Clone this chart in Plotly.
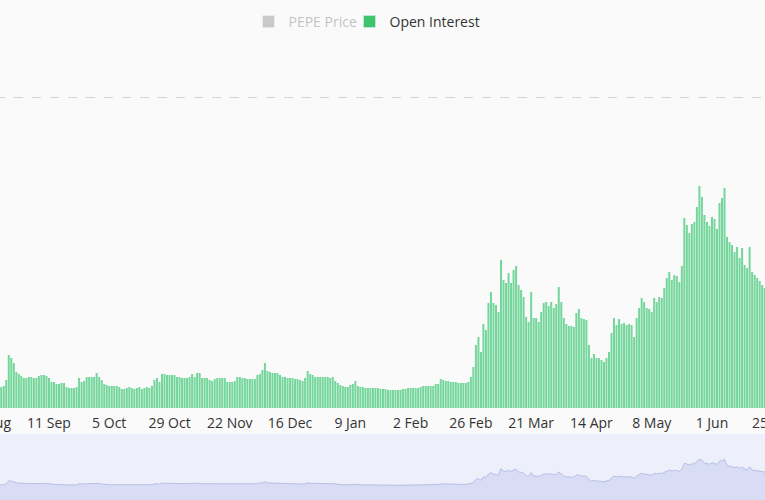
import pandas as pd
import plotly.graph_objects as go

# ---------------- data ----------------
START_DATE = "2023-08-18"

OI_AUG_OCT = [22, 21, 22, 20, 21,
              21, 22, 28, 53, 50, 45, 36, 34, 32, 30,
              30, 31, 31, 30, 30, 32, 33, 33, 32, 30,
              26, 26, 24, 24, 25, 25, 21, 20, 20, 20,
              21, 30, 26, 27, 31, 31, 31, 31, 35, 31,
              28, 24, 23, 22, 22, 22, 22, 21, 19, 19,
              20, 21, 20, 19, 20, 21, 19, 20, 21, 20,
              22, 28, 30, 26]
OI_OCT_DEC = [34, 34, 33, 33, 33, 33, 31, 31, 30, 30,
              30, 31, 34, 31, 35, 35, 30, 30, 30, 28,
              27, 29, 30, 30, 30, 30, 26, 26, 26, 27,
              31, 31, 30, 30, 29, 29, 29, 29, 33, 34,
              38, 45, 37, 36, 35, 35, 35, 33, 31, 31,
              30, 30, 30, 29, 29, 28, 27, 30, 37, 34,
              33, 31, 31]
OI_DEC_FEB = [31, 31, 31, 31, 30, 31, 27, 25, 23, 22,
              21, 21, 23, 24, 27, 22, 21, 21, 20, 20,
              20, 20, 20, 20, 19, 19, 19, 18, 18, 18,
              18, 18, 18, 19, 19, 20, 20, 20, 20, 20,
              21, 22, 22, 22, 22, 22, 24, 24, 29, 28,
              27, 27, 26, 26, 26, 25]
OI_FEB_APR = [25, 25, 25, 26, 31, 41, 63, 71, 56, 84,
              78, 105, 116, 105, 103, 96, 148, 128, 125, 135,
              125, 138, 142, 123, 118, 111, 91, 86, 116, 90,
              90, 86, 96, 105, 106, 102, 106, 100, 104, 121,
              106, 90, 84, 82, 82, 81, 95, 99, 90, 89,
              88, 63, 50, 54, 50, 50]
OI_APR_JUN = [48, 46, 50, 56, 75, 90, 83, 89, 84, 85,
              83, 84, 83, 71, 90, 100, 110, 106, 100, 99,
              96, 110, 106, 111, 110, 120, 130, 136, 128, 133,
              132, 126, 142, 190, 183, 175, 184, 186, 201, 222,
              211, 193, 186, 182, 191, 189, 179, 205, 210, 220,
              171, 166, 163, 156, 161, 150, 160, 143, 140, 161,
              136, 133, 130, 127, 123, 120, 118, 115, 112]

OPEN_INTEREST = OI_AUG_OCT + OI_OCT_DEC + OI_DEC_FEB + OI_FEB_APR + OI_APR_JUN
DATES = pd.date_range(START_DATE, periods=len(OPEN_INTEREST), freq="D")

TICK0 = "2023-08-18"
TICK_STEP_DAYS = 24
X_RANGE = ["2023-08-06 13:50", "2024-07-08 01:08"]
Y_RANGE = [0, 320]
GRID_VALUE = 311
MINI_RANGE = [-96.5, 416.3]
MINI_BASE = [MINI_RANGE[0]] * len(OPEN_INTEREST)

# ---------------- styling ----------------
SHIFT = 40
FIG_W = 765 + 2 * SHIFT
FIG_H = 500
TOP = 88
BG = "#fafafa"
BAR_COLOR = "#74d69b"
LEGEND_GREEN = "#3ec46d"
FONT = "Open Sans, Inter, sans-serif"

fig = go.Figure()

# legend-only entries
fig.add_trace(go.Bar(x=[None], y=[None], name="PEPE Price", visible="legendonly",
                     marker_color="#9a9a9a", legend="legend2"))
fig.add_trace(go.Bar(x=[None], y=[None], name="Open Interest",
                     marker_color=LEGEND_GREEN, legend="legend", hoverinfo="skip"))

# main bars
fig.add_trace(go.Bar(x=DATES, y=OPEN_INTEREST, name="Open Interest",
                     marker=dict(color=BAR_COLOR, line=dict(width=0)),
                     showlegend=False, xaxis="x", yaxis="y"))

# mini overview chart
fig.add_trace(go.Scatter(x=DATES, y=MINI_BASE, mode="lines", line=dict(width=0),
                         showlegend=False, hoverinfo="skip", xaxis="x2", yaxis="y2"))
fig.add_trace(go.Scatter(x=DATES, y=OPEN_INTEREST, mode="lines",
                         line=dict(color="#b7bfe6", width=1),
                         fill="tonexty", fillcolor="#d8ddf5",
                         showlegend=False, hoverinfo="skip", xaxis="x2", yaxis="y2"))

plot_h = FIG_H - TOP
fig.update_layout(
    width=FIG_W, height=FIG_H,
    margin=dict(l=0, r=0, t=TOP, b=0, autoexpand=False),
    paper_bgcolor=BG, plot_bgcolor=BG,
    barmode="overlay", bargap=0.2,
    font=dict(family=FONT, size=14, color="#333333"),
    xaxis=dict(type="date", range=X_RANGE, tick0=TICK0,
               dtick=TICK_STEP_DAYS * 86400000, tickformat="%-d %b",
               showgrid=False, zeroline=False, showline=False, ticks="",
               ticklabelstandoff=5,
               tickfont=dict(family=FONT, size=14, color="#333333"),
               anchor="y", domain=[0, 1]),
    yaxis=dict(range=Y_RANGE, domain=[(FIG_H - 408) / plot_h, 1],
               tickvals=[GRID_VALUE], showticklabels=False, showgrid=True,
               gridcolor="#d4d4d4", griddash="dash", gridwidth=1,
               zeroline=False, showline=False, ticks=""),
    xaxis2=dict(matches="x", anchor="y2", visible=False, domain=[0, 1]),
    yaxis2=dict(range=MINI_RANGE, domain=[0, (FIG_H - 434) / plot_h], visible=False),
    legend=dict(orientation="h", x=(373.5 + SHIFT - 24) / FIG_W, xanchor="left",
                y=(FIG_H - 22) / plot_h, yanchor="middle",
                font=dict(family=FONT, size=14, color="#333333"),
                bgcolor="rgba(0,0,0,0)"),
    legend2=dict(orientation="h", x=(272.5 + SHIFT - 24) / FIG_W, xanchor="left",
                 y=(FIG_H - 22) / plot_h, yanchor="middle",
                 font=dict(family=FONT, size=14, color="#8e8e8e"),
                 bgcolor="rgba(0,0,0,0)"),
    shapes=[dict(type="rect", xref="paper", yref="y2 domain", x0=0, x1=1, y0=0, y1=1,
                 fillcolor="#edf0fb", line=dict(width=0), layer="below")],
)

POST = ("document.documentElement.style.overflow='hidden';"
        "document.body.style.overflow='hidden';document.body.style.margin='0';"
        "var d=document.getElementById('{plot_id}');d.style.marginLeft='-%dpx';" % SHIFT)

fig.write_html("out.html", post_script=POST)
